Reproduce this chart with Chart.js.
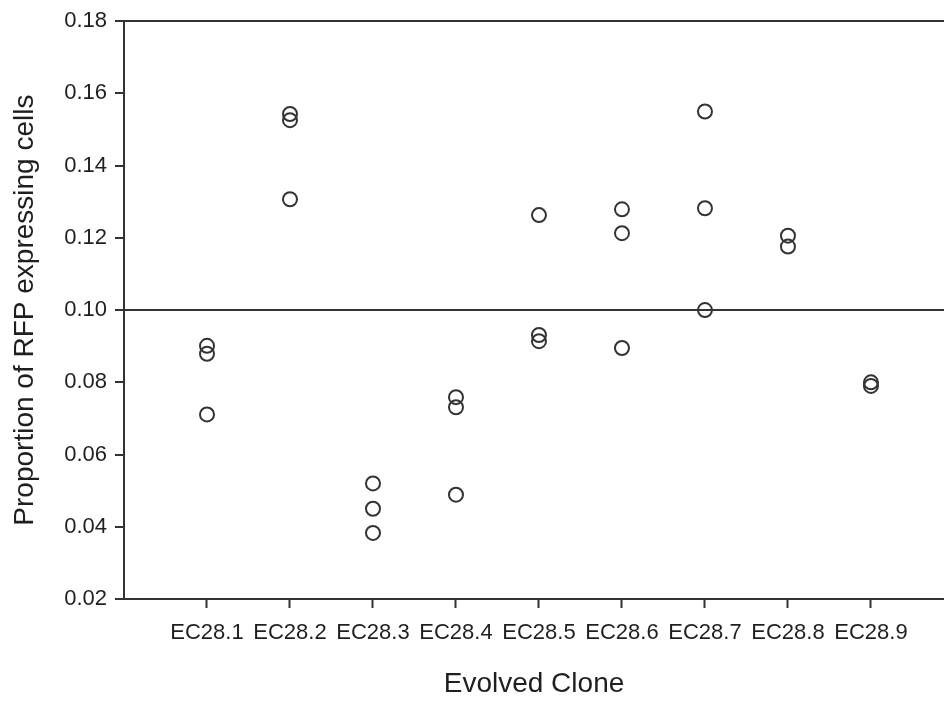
<!DOCTYPE html>
<html>
<head>
<meta charset="utf-8">
<script src="https://cdn.jsdelivr.net/npm/chart.js@4/dist/chart.umd.min.js"></script>
<style>
  html, body { margin: 0; padding: 0; background: #fff; }
  #wrap { width: 944px; height: 701px; }
</style>
</head>
<body>
<div id="wrap"><canvas id="c" width="944" height="701"></canvas></div>
<script>
// Evolved clones on the x axis
const categories = ['EC28.1', 'EC28.2', 'EC28.3', 'EC28.4', 'EC28.5', 'EC28.6', 'EC28.7', 'EC28.8', 'EC28.9'];

// Replicate measurements of the proportion of RFP expressing cells, per clone
const ec28_1 = [0.0901, 0.0879, 0.0711];
const ec28_2 = [0.1543, 0.1526, 0.1307];
const ec28_3 = [0.0520, 0.0450, 0.0383];
const ec28_4 = [0.0759, 0.0731, 0.0489];
const ec28_5 = [0.1263, 0.0931, 0.0914];
const ec28_6 = [0.1279, 0.1213, 0.0895];
const ec28_7 = [0.1550, 0.1282, 0.1000];
const ec28_8 = [0.1206, 0.1176];
const ec28_9 = [0.0800, 0.0790];
const cloneValues = [ec28_1, ec28_2, ec28_3, ec28_4, ec28_5, ec28_6, ec28_7, ec28_8, ec28_9];

// Y axis tick labels and the horizontal reference lines
const yTicks = ['0.02', '0.04', '0.06', '0.08', '0.10', '0.12', '0.14', '0.16', '0.18'];
const refLines = [0.10, 0.18];

const points = [];
cloneValues.forEach((vals, i) => vals.forEach(v => points.push({ x: i + 1, y: v })));

const ink = '#333333';
const textColor = '#1f1f1f';
const family = '"Liberation Sans", Arial, Helvetica, sans-serif';

new Chart(document.getElementById('c'), {
  type: 'scatter',
  data: {
    datasets: [{
      data: points,
      pointStyle: 'circle',
      pointRadius: 7,
      pointHoverRadius: 7,
      pointBorderWidth: 2,
      pointBorderColor: ink,
      pointBackgroundColor: 'rgba(0,0,0,0)'
    }]
  },
  options: {
    responsive: false,
    animation: false,
    events: [],
    layout: { autoPadding: false, padding: { top: 19, right: 0, bottom: 0, left: 0 } },
    plugins: { legend: { display: false }, tooltip: { enabled: false } },
    scales: {
      x: {
        type: 'linear',
        min: 0,
        max: 9.88,
        afterBuildTicks: s => { s.ticks = categories.map((_, i) => ({ value: i + 1 })); },
        ticks: {
          autoSkip: false,
          maxRotation: 0,
          padding: 12,
          color: textColor,
          font: { family, size: 22 },
          callback: (v, i) => categories[i]
        },
        grid: { drawOnChartArea: false, drawTicks: true, tickLength: 9, tickColor: ink, tickWidth: 2 },
        border: { display: true, color: ink, width: 2 },
        title: {
          display: true,
          text: 'Evolved Clone',
          color: textColor,
          font: { family, size: 28 },
          padding: { top: 0, bottom: 0 }
        },
        afterFit: s => { s.height = 102; s.paddingLeft = 0; s.paddingRight = 0; }
      },
      y: {
        type: 'linear',
        min: 0.02,
        max: 0.18,
        afterBuildTicks: s => { s.ticks = yTicks.map(t => ({ value: parseFloat(t) })); },
        ticks: {
          autoSkip: false,
          padding: 8,
          color: textColor,
          font: { family, size: 22 },
          callback: (v, i) => yTicks[i]
        },
        grid: {
          drawOnChartArea: true,
          drawTicks: true,
          tickLength: 9,
          tickColor: ink,
          tickWidth: 2,
          lineWidth: 2,
          color: ctx => (ctx.tick && refLines.some(r => Math.abs(r - ctx.tick.value) < 1e-6)) ? ink : 'rgba(0,0,0,0)'
        },
        border: { display: true, color: ink, width: 2 },
        title: {
          display: true,
          text: 'Proportion of RFP expressing cells',
          color: textColor,
          font: { family, size: 28 },
          padding: { top: 8, bottom: 0 }
        },
        afterFit: s => { s.width = 124; }
      }
    }
  }
});
</script>
</body>
</html>
